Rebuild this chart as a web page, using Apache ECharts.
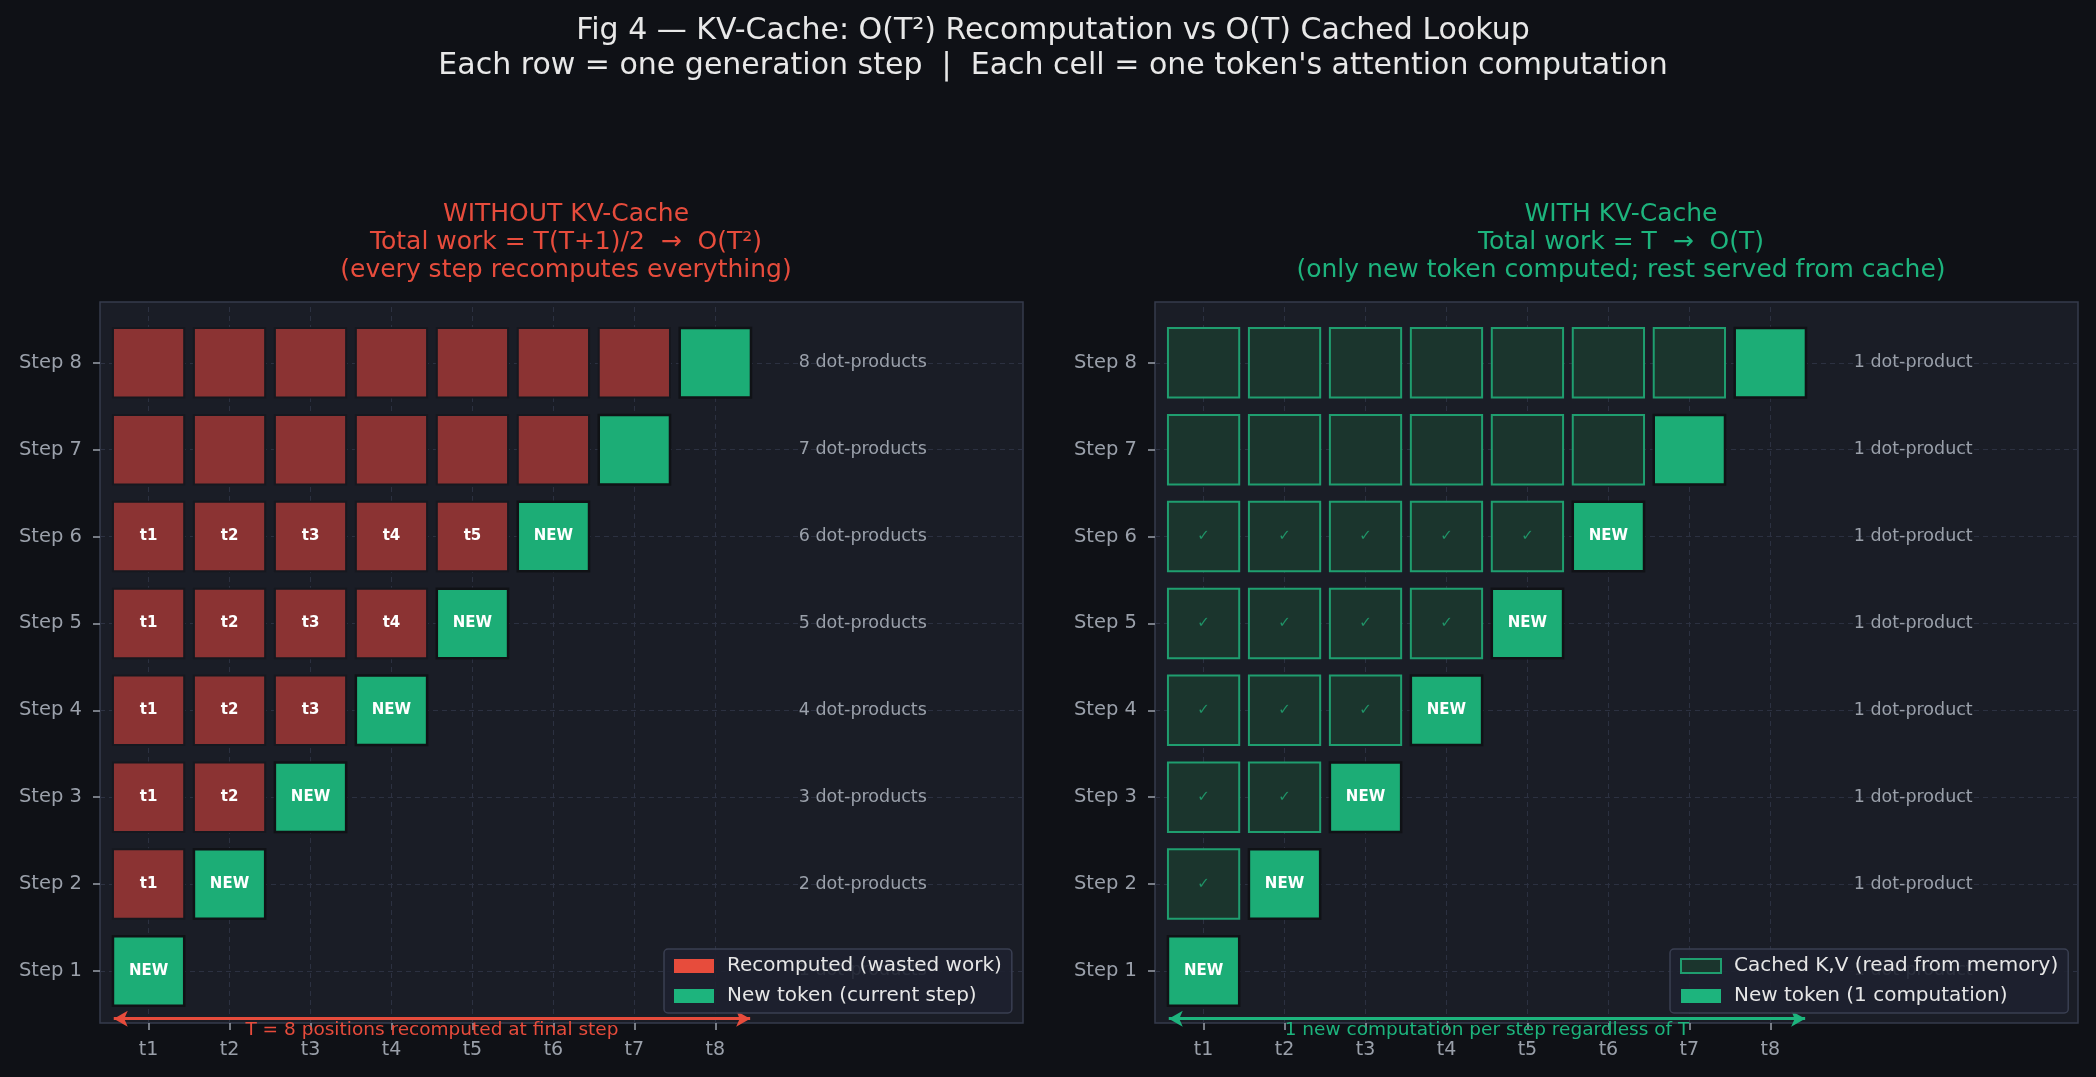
<!DOCTYPE html>
<html>
<head>
<meta charset="utf-8">
<script src="https://cdn.jsdelivr.net/npm/echarts@6/dist/echarts.min.js"></script>
<style>
    html, body { margin: 0; padding: 0; background: #0f1116; }
    #chart { width: 2096px; height: 1077px; }
</style>
</head>
<body>
<div id="chart"></div>
<script>
// token positions and generation steps
var tokens = ['t1', 't2', 't3', 't4', 't5', 't6', 't7', 't8'];
var steps = ['Step 1', 'Step 2', 'Step 3', 'Step 4', 'Step 5', 'Step 6', 'Step 7', 'Step 8'];
// dot-products needed at each step
var recomputeCost = [1, 2, 3, 4, 5, 6, 7, 8];
var cachedCost = [1, 1, 1, 1, 1, 1, 1, 1];
// rows 7 and 8 are drawn without text inside the cells
var labelledSteps = 6;
var positionTicks = [1, 2, 3, 4, 5, 6, 7, 8];
var stepTicks = [1, 2, 3, 4, 5, 6, 7, 8];

var BG = '#0f1116';
var AX_BG = '#1a1d26';
var RED = '#e74c3c';
var GREEN = '#1db47d';
var FONT = 'DejaVu Sans';

// build the cells of one panel
function buildCells(oldText) {
    var oldCells = [], oldLabels = [], newCells = [], newLabels = [];
    for (var s = 1; s <= steps.length; s++) {
        for (var t = 1; t < s; t++) {
            oldCells.push([t, s]);
            oldLabels.push(s <= labelledSteps ? oldText(t) : '');
        }
        newCells.push([s, s]);
        newLabels.push(s <= labelledSteps ? 'NEW' : '');
    }
    return {oldCells: oldCells, oldLabels: oldLabels, newCells: newCells, newLabels: newLabels};
}

var left = buildCells(function (t) { return tokens[t - 1]; });
var right = buildCells(function () { return '\u2713'; });

function cellRenderer(labels, style, textStyle) {
    return function (params, api) {
        var x = api.value(0), y = api.value(1);
        var p0 = api.coord([x - 0.44, y + 0.4]);
        var p1 = api.coord([x + 0.44, y - 0.4]);
        var c = api.coord([x, y]);
        return {
            type: 'group',
            children: [
                {
                    type: 'rect',
                    shape: {x: p0[0], y: p0[1], width: p1[0] - p0[0], height: p1[1] - p0[1]},
                    style: style
                },
                {
                    type: 'text',
                    style: {
                        text: labels[params.dataIndex],
                        x: c[0], y: c[1],
                        align: 'center', verticalAlign: 'middle',
                        fill: textStyle.color,
                        font: textStyle.font
                    }
                }
            ]
        };
    };
}

function noteRenderer(costs, plural) {
    return function (params, api) {
        var c = api.coord([api.value(0), api.value(1)]);
        var n = costs[params.dataIndex];
        return {
            type: 'text',
            style: {
                text: n + ' dot-product' + (plural ? 's' : ''),
                x: c[0], y: c[1],
                align: 'left', verticalAlign: 'middle',
                fill: '#9aa0aa',
                font: '17.5px "' + FONT + '"'
            }
        };
    };
}

function gridLines(idx) {
    var data = positionTicks.map(function (v) { return {xAxis: v}; })
        .concat(stepTicks.map(function (v) { return {yAxis: v}; }));
    return {
        type: 'scatter',
        xAxisIndex: idx, yAxisIndex: idx,
        data: [],
        z: 1,
        silent: true,
        markLine: {
            silent: true,
            z: 1,
            symbol: 'none',
            animation: false,
            label: {show: false},
            lineStyle: {color: '#2c3141', type: [5, 4], width: 1},
            data: data
        }
    };
}

function noteSeries(idx, costs, plural, arrowColor, arrowText) {
    return {
        type: 'custom',
        xAxisIndex: idx, yAxisIndex: idx,
        clip: false,
        z: 2,
        data: stepTicks.map(function (s) { return [9.03, s]; }),
        renderItem: noteRenderer(costs, plural),
        markLine: {
            silent: true,
            z: 3,
            animation: false,
            symbol: ['arrow', 'arrow'],
            symbolSize: [12, 14],
            lineStyle: {color: arrowColor, width: 3, type: 'solid'},
            label: {
                show: true,
                position: 'insideMiddleBottom',
                distance: 2,
                formatter: arrowText,
                color: arrowColor,
                fontFamily: FONT,
                fontSize: 18.5
            },
            data: [[{coord: [0.57, 0.45]}, {coord: [8.43, 0.45]}]]
        }
    };
}

function xAxisFor(idx) {
    return {
        type: 'value', gridIndex: idx, min: 0.4, max: 11.8,
        axisLine: {show: false},
        splitLine: {show: false},
        axisTick: {show: true, customValues: positionTicks, length: 7,
            lineStyle: {color: '#9aa0aa', width: 1.5}},
        axisLabel: {customValues: positionTicks, margin: 18, color: '#9aa0aa',
            fontFamily: FONT, fontSize: 19,
            formatter: function (v) { return tokens[Math.round(v) - 1]; }}
    };
}

function yAxisFor(idx) {
    return {
        type: 'value', gridIndex: idx, min: 0.4, max: 8.7,
        axisLine: {show: false},
        splitLine: {show: false},
        axisTick: {show: true, customValues: stepTicks, length: 7,
            lineStyle: {color: '#9aa0aa', width: 1.5}},
        axisLabel: {customValues: stepTicks, margin: 18, color: '#9aa0aa',
            fontFamily: FONT, fontSize: 19.5,
            formatter: function (v) { return steps[Math.round(v) - 1]; }}
    };
}

function legendFor(x, items) {
    return {
        left: x, top: 949,
        orient: 'vertical',
        itemWidth: 40, itemHeight: 14, itemGap: 8,
        padding: [6, 10, 6, 10],
        backgroundColor: 'rgba(30,33,48,0.9)',
        borderColor: '#3a3f52', borderWidth: 1.5, borderRadius: 4,
        textStyle: {color: '#e6e6e6', fontFamily: FONT, fontSize: 20, lineHeight: 22,
            padding: [0, 0, 0, 8]},
        data: items
    };
}

var cellText = {color: '#ffffff', font: 'bold 15px "' + FONT + '"'};
var checkText = {color: '#1f9467', font: '15px "' + FONT + '"'};

var chart = echarts.init(document.getElementById('chart'));
var option = {
    backgroundColor: BG,
    animation: false,
    title: [
        {
            text: 'Fig 4 \u2014 KV-Cache: O(T\u00b2) Recomputation vs O(T) Cached Lookup\n' +
                'Each row = one generation step  |  Each cell = one token\'s attention computation',
            left: 1048, top: 9, textAlign: 'center',
            textStyle: {color: '#e8e8e8', fontFamily: FONT, fontSize: 30, fontWeight: 'normal', lineHeight: 35, align: 'center'}
        },
        {
            text: 'WITHOUT KV-Cache\nTotal work = T(T+1)/2  \u2192  O(T\u00b2)\n(every step recomputes everything)',
            left: 561, top: 195, textAlign: 'center',
            textStyle: {color: RED, fontFamily: FONT, fontSize: 25, fontWeight: 'normal', lineHeight: 28, align: 'center'}
        },
        {
            text: 'WITH KV-Cache\nTotal work = T  \u2192  O(T)\n(only new token computed; rest served from cache)',
            left: 1616, top: 195, textAlign: 'center',
            textStyle: {color: GREEN, fontFamily: FONT, fontSize: 25, fontWeight: 'normal', lineHeight: 28, align: 'center'}
        }
    ],
    legend: [
        legendFor(664, [
            {name: 'Recomputed (wasted work)', icon: 'rect', itemStyle: {color: RED, borderWidth: 0}},
            {name: 'New token (current step)', icon: 'rect', itemStyle: {color: GREEN, borderWidth: 0}}
        ]),
        legendFor(1670, [
            {name: 'Cached K,V (read from memory)', icon: 'rect',
                itemStyle: {color: '#1b352d', borderColor: '#1f9e6f', borderWidth: 2}},
            {name: 'New token (1 computation)', icon: 'rect', itemStyle: {color: GREEN, borderWidth: 0}}
        ])
    ],
    grid: [
        {left: 100, top: 302, width: 923, height: 721, show: true,
            backgroundColor: AX_BG, borderColor: '#363b4c', borderWidth: 1.5},
        {left: 1155, top: 302, width: 923, height: 721, show: true,
            backgroundColor: AX_BG, borderColor: '#363b4c', borderWidth: 1.5}
    ],
    xAxis: [xAxisFor(0), xAxisFor(1)],
    yAxis: [yAxisFor(0), yAxisFor(1)],
    series: [
        gridLines(0),
        gridLines(1),
        {
            name: 'Recomputed (wasted work)',
            type: 'custom', xAxisIndex: 0, yAxisIndex: 0, z: 2,
            itemStyle: {color: RED},
            data: left.oldCells,
            renderItem: cellRenderer(left.oldLabels, {fill: '#8b3333', stroke: '#16181f', lineWidth: 2}, cellText)
        },
        {
            name: 'New token (current step)',
            type: 'custom', xAxisIndex: 0, yAxisIndex: 0, z: 2,
            itemStyle: {color: GREEN},
            data: left.newCells,
            renderItem: cellRenderer(left.newLabels, {fill: '#1cad76', stroke: '#101216', lineWidth: 2.5}, cellText)
        },
        {
            name: 'Cached K,V (read from memory)',
            type: 'custom', xAxisIndex: 1, yAxisIndex: 1, z: 2,
            itemStyle: {color: '#1b352d'},
            data: right.oldCells,
            renderItem: cellRenderer(right.oldLabels, {fill: '#1b352d', stroke: '#1f9e6f', lineWidth: 2}, checkText)
        },
        {
            name: 'New token (1 computation)',
            type: 'custom', xAxisIndex: 1, yAxisIndex: 1, z: 2,
            itemStyle: {color: GREEN},
            data: right.newCells,
            renderItem: cellRenderer(right.newLabels, {fill: '#1cad76', stroke: '#101216', lineWidth: 2.5}, cellText)
        },
        noteSeries(0, recomputeCost, true, RED, 'T = 8 positions recomputed at final step'),
        noteSeries(1, cachedCost, false, GREEN, '1 new computation per step regardless of T')
    ]
};
chart.setOption(option);
</script>
</body>
</html>
